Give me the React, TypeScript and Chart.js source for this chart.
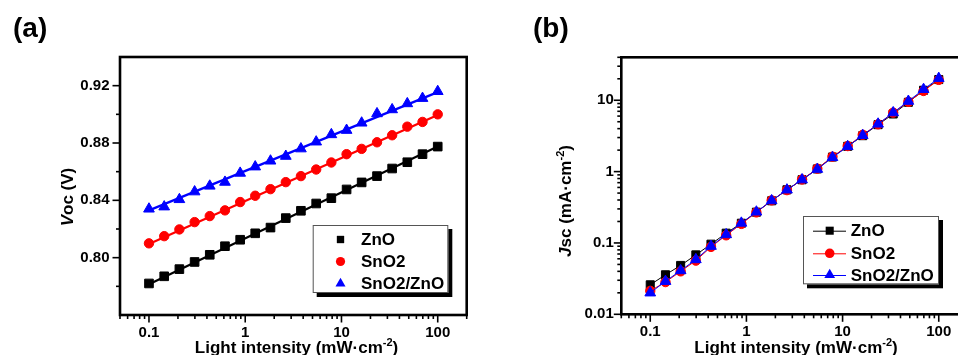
import React, { useEffect, useRef } from 'react';
import { Chart, registerables } from 'chart.js';

Chart.register(...registerables);

// ---------------- data ----------------
const seriesNames = ['ZnO', 'SnO2', 'SnO2/ZnO'];
const seriesColors = ['#000000', '#ff0000', '#0000ff'];

// light intensity (mW/cm2)
const intensity = [0.1, 0.144, 0.207, 0.298, 0.428, 0.616, 0.886, 1.27, 1.83, 2.64, 3.79, 5.46, 7.85, 11.3, 16.2, 23.4, 33.6, 48.3, 69.5, 100];

// (a) Voc (V)
const vocZnO = [0.782, 0.787, 0.792, 0.797, 0.802, 0.808, 0.8125, 0.817, 0.821, 0.8276, 0.8327, 0.8378, 0.8415, 0.8476, 0.8525, 0.8569, 0.8622, 0.8666, 0.8722, 0.8775];
const vocSnO2 = [0.810, 0.815, 0.8197, 0.8248, 0.829, 0.833, 0.8388, 0.8432, 0.8478, 0.8527, 0.8569, 0.8615, 0.8664, 0.8722, 0.8759, 0.8805, 0.8854, 0.8914, 0.8947, 0.900];
const vocSnO2ZnO = [0.834, 0.8355, 0.8406, 0.846, 0.850, 0.8527, 0.859, 0.8634, 0.8675, 0.8708, 0.876, 0.8808, 0.8859, 0.8889, 0.894, 0.9005, 0.9033, 0.9075, 0.9112, 0.916];

// (a) linear fit lines (end points)
const fitX = [0.1, 100];
const fitZnO = [0.7815, 0.8775];
const fitSnO2 = [0.8095, 0.8995];
const fitSnO2ZnO = [0.833, 0.9155];

// (b) Jsc (mA/cm2)
const jscZnO = [0.0259, 0.0358, 0.0484, 0.068, 0.0961, 0.137, 0.189, 0.27, 0.39, 0.556, 0.769, 1.09, 1.6, 2.26, 3.19, 4.55, 6.42, 9.36, 13.8, 19.5];
const jscSnO2 = [0.0213, 0.0283, 0.04, 0.0565, 0.088, 0.128, 0.185, 0.268, 0.395, 0.55, 0.775, 1.1, 1.62, 2.28, 3.28, 4.6, 6.7, 9.5, 13.5, 19.3];
const jscSnO2ZnO = [0.02, 0.029, 0.041, 0.0585, 0.09, 0.131, 0.19, 0.272, 0.392, 0.555, 0.77, 1.08, 1.58, 2.25, 3.22, 4.65, 6.7, 9.7, 14.2, 20.3];

// ticks
const xTickLabels = [0.1, 1, 10, 100];
const vocTickLabels = [0.8, 0.84, 0.88, 0.92];
const jscTickLabels = [0.01, 0.1, 1, 10];

// --------------------------------------
const FAM = '"Liberation Sans", Arial, Helvetica, sans-serif';
Chart.defaults.font.family = FAM;

type Part = { t: string; italic?: boolean; sup?: boolean };

function fontFor(size: number, p: Part) {
  const s = p.sup ? Math.round(size * 0.62) : size;
  return `${p.italic ? 'italic ' : ''}bold ${s}px ${FAM}`;
}

function drawRich(ctx: CanvasRenderingContext2D, parts: Part[], cx: number, baseline: number, size: number) {
  const widths = parts.map((p) => {
    ctx.font = fontFor(size, p);
    return ctx.measureText(p.t).width;
  });
  const total = widths.reduce((a, b) => a + b, 0);
  let x = cx - total / 2;
  ctx.textAlign = 'left';
  ctx.textBaseline = 'alphabetic';
  parts.forEach((p, i) => {
    ctx.font = fontFor(size, p);
    ctx.fillText(p.t, x, p.sup ? baseline - size * 0.42 : baseline);
    x += widths[i];
  });
}

function drawMarker(ctx: CanvasRenderingContext2D, style: string, x: number, y: number, r: number) {
  ctx.beginPath();
  if (style === 'rect') {
    const s = Math.SQRT1_2 * r;
    ctx.rect(x - s, y - s, 2 * s, 2 * s);
  } else if (style === 'circle') {
    ctx.arc(x, y, r, 0, Math.PI * 2);
  } else {
    let rad = 0;
    ctx.moveTo(x + Math.sin(rad) * r, y - Math.cos(rad) * r);
    rad += (2 * Math.PI) / 3;
    ctx.lineTo(x + Math.sin(rad) * r, y - Math.cos(rad) * r);
    rad += (2 * Math.PI) / 3;
    ctx.lineTo(x + Math.sin(rad) * r, y - Math.cos(rad) * r);
    ctx.closePath();
  }
  ctx.fill();
}

const styles = ['rect', 'circle', 'triangle'];

function logMinor(lo: number, hi: number, majors: number[]) {
  const out: number[] = [];
  for (let e = -3; e <= 3; e++) {
    for (let m = 1; m <= 9; m++) {
      const v = Number((m * Math.pow(10, e)).toPrecision(4));
      if (v >= lo - 1e-12 && v <= hi + 1e-12 && !majors.some((t) => Math.abs(t - v) < 1e-9)) out.push(v);
    }
  }
  return out;
}

type Deco = {
  letter: string;
  letterX: number;
  xTitle: Part[];
  xTitleCx: number;
  yTitle: Part[];
  yTitleCx: number;
  yTitleCy: number;
  xMajor: number[];
  xMinor: number[];
  yMajor: number[];
  yMinor: number[];
  legend: {
    x0: number; y0: number; x1: number; y1: number;
    rows: number[]; markerX: number; textX: number;
    line?: [number, number]; radii: number[];
  };
  offsetX: number;
};

function decoPlugin(d: Deco) {
  return {
    id: 'deco',
    afterDraw(chart: any) {
      const ctx: CanvasRenderingContext2D = chart.ctx;
      const { left, right, top, bottom } = chart.chartArea;
      const xs = chart.scales.x;
      const ys = chart.scales.y;
      const ox = d.offsetX;
      ctx.save();
      ctx.strokeStyle = '#000';
      ctx.fillStyle = '#000';
      // tick marks
      ctx.lineWidth = 1.6;
      const seg = (x0: number, y0: number, x1: number, y1: number) => {
        ctx.beginPath();
        ctx.moveTo(x0, y0);
        ctx.lineTo(x1, y1);
        ctx.stroke();
      };
      d.xMinor.forEach((v) => {
        const p = xs.getPixelForValue(v);
        if (p >= left - 0.5 && p <= right + 0.5) seg(p, bottom, p, bottom + 4);
      });
      d.xMajor.forEach((v) => {
        const p = xs.getPixelForValue(v);
        seg(p, bottom, p, bottom + 7.5);
      });
      d.yMinor.forEach((v) => {
        const p = ys.getPixelForValue(v);
        if (p >= top - 0.5 && p <= bottom + 0.5) seg(left, p, left - 4, p);
      });
      d.yMajor.forEach((v) => {
        const p = ys.getPixelForValue(v);
        seg(left, p, left - 7.5, p);
      });
      // frame
      ctx.lineWidth = 2.6;
      ctx.strokeRect(left, top, right - left, bottom - top);

      // panel letter
      ctx.font = `bold 28px ${FAM}`;
      ctx.textAlign = 'left';
      ctx.textBaseline = 'alphabetic';
      ctx.fillText(d.letter, d.letterX - ox, 37);

      // axis titles
      drawRich(ctx, d.xTitle, d.xTitleCx - ox, 353, 17);
      ctx.save();
      ctx.translate(d.yTitleCx - ox, d.yTitleCy);
      ctx.rotate(-Math.PI / 2);
      drawRich(ctx, d.yTitle, 0, 17 * 0.36, 17);
      ctx.restore();

      // legend
      const L = d.legend;
      const lx0 = L.x0 - ox;
      const lx1 = L.x1 - ox;
      ctx.fillStyle = '#000';
      ctx.fillRect(lx0 + 4, L.y0 + 4, lx1 - lx0, L.y1 - L.y0);
      ctx.fillStyle = '#fff';
      ctx.fillRect(lx0, L.y0, lx1 - lx0, L.y1 - L.y0);
      ctx.strokeStyle = '#555';
      ctx.lineWidth = 1;
      ctx.strokeRect(lx0 + 0.5, L.y0 + 0.5, lx1 - lx0 - 1, L.y1 - L.y0 - 1);
      L.rows.forEach((ry, i) => {
        const c = seriesColors[i];
        if (L.line) {
          ctx.strokeStyle = c;
          ctx.lineWidth = 1;
          ctx.beginPath();
          ctx.moveTo(L.line[0] - ox, ry + 0.5);
          ctx.lineTo(L.line[1] - ox, ry + 0.5);
          ctx.stroke();
        }
        ctx.fillStyle = c;
        drawMarker(ctx, styles[i], L.markerX - ox, ry, L.radii[i]);
        ctx.fillStyle = '#000';
        ctx.font = `bold 17px ${FAM}`;
        ctx.textAlign = 'left';
        ctx.textBaseline = 'middle';
        ctx.fillText(seriesNames[i], L.textX - ox, ry + 1);
      });
      ctx.restore();
    },
  };
}

const tickFont = { size: 15, weight: 'bold' as const, family: FAM };

function pointDs(ys: number[], i: number, r: number, line: boolean) {
  const c = seriesColors[i];
  return {
    label: seriesNames[i],
    data: intensity.map((x, k) => ({ x, y: ys[k] })),
    showLine: line,
    borderColor: c,
    borderWidth: 1,
    backgroundColor: c,
    pointStyle: styles[i],
    pointRadius: r,
    pointHoverRadius: r,
    pointBackgroundColor: c,
    pointBorderColor: c,
    pointBorderWidth: 1,
    order: 2 - i + 3,
  };
}

function fitDs(ys: number[], i: number) {
  return {
    label: seriesNames[i] + ' fit',
    data: fitX.map((x, k) => ({ x, y: ys[k] })),
    showLine: true,
    borderColor: seriesColors[i],
    borderWidth: 2.2,
    pointRadius: 0,
    pointHoverRadius: 0,
    order: 10 + i,
  };
}

function configA(): any {
  const H = 380;
  return {
    type: 'scatter',
    data: {
      datasets: [
        fitDs(fitZnO, 0),
        fitDs(fitSnO2, 1),
        fitDs(fitSnO2ZnO, 2),
        pointDs(vocZnO, 0, 6.1, false),
        pointDs(vocSnO2, 1, 4.7, false),
        pointDs(vocSnO2ZnO, 2, 6.2, false),
      ],
    },
    options: {
      animation: false,
      responsive: false,
      events: [],
      layout: { padding: { top: 57, right: 12.3, left: 0, bottom: 0 } },
      plugins: { legend: { display: false }, tooltip: { enabled: false } },
      scales: {
        x: {
          type: 'logarithmic',
          min: 0.05,
          max: 200,
          grid: { display: false, drawTicks: false },
          border: { display: false },
          afterBuildTicks: (s: any) => {
            s.ticks = xTickLabels.map((v) => ({ value: v }));
          },
          afterFit: (s: any) => {
            s.height = H - 315;
          },
          ticks: { autoSkip: false, maxRotation: 0, padding: 9, color: '#000', font: tickFont, callback: (v: any) => String(v) },
        },
        y: {
          type: 'linear',
          min: 0.76,
          max: 0.94,
          grid: { display: false, drawTicks: false },
          border: { display: false },
          afterBuildTicks: (s: any) => {
            s.ticks = vocTickLabels.map((v) => ({ value: v }));
          },
          afterFit: (s: any) => {
            s.width = 120;
          },
          ticks: { autoSkip: false, padding: 10.5, color: '#000', font: tickFont, callback: (v: any) => Number(v).toFixed(2) },
        },
      },
    },
    plugins: [
      decoPlugin({
        letter: '(a)',
        letterX: 13,
        xTitle: [{ t: 'Light intensity (mW·cm' }, { t: '-2', sup: true }, { t: ')' }],
        xTitleCx: 296.5,
        yTitle: [{ t: 'V', italic: true }, { t: 'oc (V)' }],
        yTitleCx: 67,
        yTitleCy: 197,
        xMajor: xTickLabels,
        xMinor: logMinor(0.05, 200, xTickLabels),
        yMajor: vocTickLabels,
        yMinor: [0.78, 0.82, 0.86, 0.9],
        legend: {
          x0: 312.7, y0: 225, x1: 448.3, y1: 293,
          rows: [239.5, 261.5, 283.5], markerX: 340.5, textX: 361,
          radii: [5.2, 4.6, 5.8],
        },
        offsetX: 0,
      }),
    ],
  };
}

function configB(): any {
  const H = 380;
  const OX = 479;
  return {
    type: 'scatter',
    data: {
      datasets: [
        { ...pointDs(jscZnO, 0, 5.7, true), order: 3 },
        { ...pointDs(jscSnO2, 1, 4.7, true), order: 2 },
        { ...pointDs(jscSnO2ZnO, 2, 6.2, true), order: 1 },
      ],
    },
    options: {
      animation: false,
      responsive: false,
      events: [],
      layout: { padding: { top: 57.3, right: 12.3, left: 0, bottom: 0 } },
      plugins: { legend: { display: false }, tooltip: { enabled: false } },
      scales: {
        x: {
          type: 'logarithmic',
          min: 0.05,
          max: 200,
          grid: { display: false, drawTicks: false },
          border: { display: false },
          afterBuildTicks: (s: any) => {
            s.ticks = xTickLabels.map((v) => ({ value: v }));
          },
          afterFit: (s: any) => {
            s.height = H - 314.3;
          },
          ticks: { autoSkip: false, maxRotation: 0, padding: 9, color: '#000', font: tickFont, callback: (v: any) => String(v) },
        },
        y: {
          type: 'logarithmic',
          min: 0.01,
          max: 40,
          grid: { display: false, drawTicks: false },
          border: { display: false },
          afterBuildTicks: (s: any) => {
            s.ticks = jscTickLabels.map((v) => ({ value: v }));
          },
          afterFit: (s: any) => {
            s.width = 621.3 - OX;
          },
          ticks: { autoSkip: false, padding: 7.5, color: '#000', font: tickFont, callback: (v: any) => String(v) },
        },
      },
    },
    plugins: [
      decoPlugin({
        letter: '(b)',
        letterX: 533,
        xTitle: [{ t: 'Light intensity (mW·cm' }, { t: '-2', sup: true }, { t: ')' }],
        xTitleCx: 796,
        yTitle: [{ t: 'J', italic: true }, { t: 'sc (mA·cm' }, { t: '-2', sup: true }, { t: ')' }],
        yTitleCx: 565,
        yTitleCy: 201,
        xMajor: xTickLabels,
        xMinor: logMinor(0.05, 200, xTickLabels),
        yMajor: jscTickLabels,
        yMinor: logMinor(0.01, 40, jscTickLabels),
        legend: {
          x0: 803, y0: 216, x1: 939, y1: 284.3,
          rows: [230.7, 253.3, 275], markerX: 829.7, textX: 850.7,
          line: [813, 846], radii: [5.7, 4.8, 6.2],
        },
        offsetX: OX,
      }),
    ],
  };
}

function Panel({ make, left, width, height }: { make: () => any; left: number; width: number; height: number }) {
  const ref = useRef<HTMLCanvasElement>(null);
  useEffect(() => {
    const chart = new Chart(ref.current as HTMLCanvasElement, make());
    return () => chart.destroy();
  }, []);
  return (
    <canvas
      ref={ref}
      width={width}
      height={height}
      style={{ position: 'absolute', left, top: 0, width, height, display: 'block' }}
    />
  );
}

export default function App() {
  return (
    <div
      style={{
        position: 'fixed',
        left: 0,
        top: 0,
        width: 958,
        height: 355,
        overflow: 'hidden',
        background: '#fff',
      }}
    >
      <Panel make={configA} left={0} width={479} height={380} />
      <Panel make={configB} left={479} width={501} height={380} />
    </div>
  );
}
